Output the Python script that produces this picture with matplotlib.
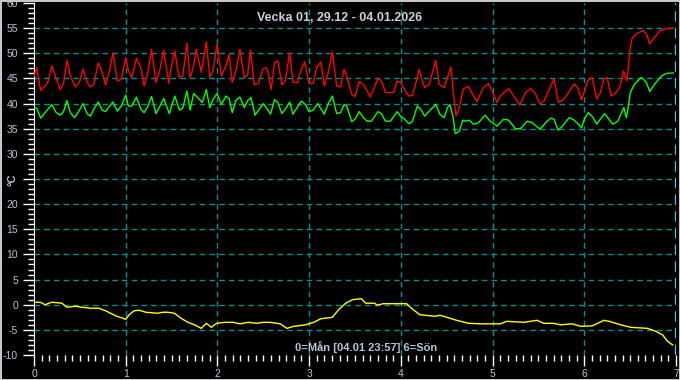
import matplotlib.pyplot as plt
import numpy as np
from matplotlib.ticker import MultipleLocator

# time in days (0=Mon), temperatures in °C
red_t = [0.0, 0.029, 0.073, 0.147, 0.194, 0.286, 0.322, 0.359, 0.396, 0.451, 0.495, 0.535, 0.579, 0.615,
         0.652, 0.700, 0.744, 0.780, 0.824, 0.861, 0.908, 0.952, 1.000, 1.029, 1.066, 1.117, 1.165, 1.201,
         1.238, 1.282, 1.330, 1.374, 1.414, 1.458, 1.469, 1.495, 1.535, 1.568, 1.586, 1.623, 1.667, 1.703,
         1.740, 1.769, 1.806, 1.824, 1.879, 1.916, 1.952, 1.996, 2.044, 2.092, 2.128, 2.161, 2.201, 2.245,
         2.293, 2.330, 2.359, 2.403, 2.447, 2.495, 2.531, 2.549, 2.586, 2.623, 2.659, 2.703, 2.740, 2.788,
         2.824, 2.872, 2.908, 2.952, 3.000, 3.044, 3.081, 3.128, 3.165, 3.209, 3.253, 3.300, 3.344, 3.381,
         3.410, 3.465, 3.502, 3.546, 3.593, 3.667, 3.751, 3.788, 3.832, 3.923, 3.960, 3.996, 4.040, 4.088,
         4.125, 4.161, 4.198, 4.234, 4.260, 4.308, 4.381, 4.418, 4.473, 4.509, 4.546, 4.571, 4.601, 4.637,
         4.681, 4.736, 4.828, 4.901, 4.956, 5.004, 5.048, 5.084, 5.176, 5.231, 5.297, 5.359, 5.414, 5.469,
         5.516, 5.560, 5.670, 5.718, 5.780, 5.890, 5.927, 5.971, 6.037, 6.084, 6.110, 6.136, 6.176, 6.212,
         6.249, 6.293, 6.348, 6.385, 6.429, 6.447, 6.465, 6.476, 6.502, 6.520, 6.568, 6.641, 6.678, 6.714,
         6.769, 6.824, 6.897, 6.971]
red_v = [45.5, 47.1, 42.6, 44.0, 47.5, 42.8, 44.0, 48.6, 45.5, 43.3, 44.2, 46.9, 44.2, 43.3,
         43.8, 48.1, 46.2, 43.7, 46.5, 50.1, 44.5, 44.8, 49.1, 46.6, 45.2, 49.0, 47.1, 43.5,
         45.8, 50.8, 44.2, 46.8, 50.6, 45.2, 44.0, 47.1, 50.5, 46.5, 45.2, 45.5, 52.0, 45.0,
         47.5, 50.8, 47.8, 46.2, 52.3, 45.2, 46.5, 51.8, 45.5, 47.5, 49.8, 44.2, 46.5, 50.8,
         45.1, 45.8, 50.6, 43.7, 44.0, 46.9, 47.1, 46.5, 42.8, 48.1, 48.5, 43.7, 44.6, 50.1,
         44.2, 44.2, 46.5, 48.3, 44.0, 44.0, 47.1, 48.3, 43.5, 46.2, 50.3, 43.5, 43.3, 46.8,
         45.5, 41.8, 41.4, 44.4, 43.8, 41.3, 45.0, 44.5, 42.2, 42.2, 44.5, 44.2, 42.8, 41.5,
         41.6, 43.8, 46.8, 44.5, 43.2, 43.8, 48.6, 43.8, 43.2, 45.2, 47.3, 42.5, 37.5, 39.2,
         42.9, 43.4, 40.4, 43.2, 44.0, 42.2, 40.2, 41.5, 43.0, 41.5, 39.7, 42.2, 43.0, 41.9,
         39.9, 40.5, 44.9, 40.2, 40.9, 43.9, 43.2, 40.7, 44.5, 45.2, 43.2, 40.9, 42.2, 44.9,
         45.2, 41.5, 42.2, 43.2, 46.5, 45.2, 44.5, 46.5, 51.2, 52.9, 53.9, 54.5, 53.9, 51.9,
         53.2, 54.5, 54.9, 55.0]

green_t = [0.0, 0.029, 0.073, 0.121, 0.194, 0.242, 0.286, 0.322, 0.359, 0.396, 0.443, 0.487, 0.535, 0.579,
           0.615, 0.652, 0.700, 0.744, 0.780, 0.824, 0.861, 0.908, 0.952, 1.000, 1.029, 1.066, 1.117, 1.165,
           1.201, 1.238, 1.282, 1.330, 1.374, 1.414, 1.458, 1.476, 1.495, 1.535, 1.586, 1.623, 1.667, 1.703,
           1.740, 1.769, 1.806, 1.835, 1.879, 1.916, 1.952, 1.996, 2.044, 2.092, 2.128, 2.161, 2.201, 2.245,
           2.293, 2.330, 2.366, 2.410, 2.458, 2.502, 2.579, 2.623, 2.659, 2.703, 2.751, 2.788, 2.824, 2.879,
           2.916, 2.960, 3.000, 3.044, 3.092, 3.165, 3.209, 3.253, 3.300, 3.344, 3.381, 3.410, 3.465, 3.502,
           3.546, 3.593, 3.630, 3.678, 3.751, 3.788, 3.832, 3.886, 3.960, 3.996, 4.040, 4.088, 4.125, 4.179,
           4.216, 4.260, 4.308, 4.381, 4.425, 4.473, 4.509, 4.535, 4.571, 4.593, 4.637, 4.674, 4.700, 4.747,
           4.791, 4.846, 4.919, 4.974, 5.048, 5.121, 5.176, 5.249, 5.304, 5.377, 5.432, 5.516, 5.579, 5.634,
           5.670, 5.714, 5.762, 5.835, 5.890, 5.971, 6.000, 6.044, 6.092, 6.136, 6.176, 6.220, 6.256, 6.311,
           6.366, 6.432, 6.458, 6.476, 6.502, 6.549, 6.623, 6.678, 6.714, 6.769, 6.842, 6.897, 6.971]
green_v = [39.1, 39.1, 37.1, 38.2, 39.8, 38.2, 37.7, 38.4, 40.6, 38.2, 37.2, 38.4, 40.0, 38.0,
           37.5, 38.9, 40.3, 38.7, 38.4, 39.5, 40.3, 38.5, 39.5, 41.7, 39.5, 39.5, 41.3, 38.9,
           38.2, 39.3, 41.4, 38.0, 39.5, 41.0, 38.9, 38.0, 39.2, 41.5, 38.7, 39.1, 42.5, 38.7,
           42.0, 41.5, 40.8, 40.2, 42.8, 39.2, 40.8, 42.0, 39.8, 41.5, 41.0, 38.2, 40.6, 41.3,
           39.2, 40.6, 41.2, 37.7, 38.9, 40.0, 37.9, 40.8, 40.2, 38.0, 39.2, 40.3, 37.9, 39.5,
           40.5, 39.8, 38.4, 38.7, 40.0, 37.9, 40.0, 41.5, 38.0, 38.2, 39.8, 39.5, 36.4, 36.9,
           38.4, 37.2, 36.5, 36.5, 38.4, 38.0, 36.5, 36.5, 38.4, 37.5, 36.9, 36.0, 36.4, 39.5,
           38.9, 37.5, 38.5, 39.8, 37.9, 37.2, 39.2, 39.8, 37.2, 34.0, 34.5, 36.7, 36.5, 36.7,
           35.9, 36.2, 37.7, 36.5, 35.5, 36.9, 36.7, 35.0, 35.0, 36.5, 36.2, 34.9, 36.2, 37.1,
           36.9, 34.7, 35.5, 37.2, 36.7, 35.2, 36.9, 38.2, 37.3, 35.9, 36.9, 38.0, 37.2, 35.9,
           36.5, 39.2, 37.2, 38.9, 42.2, 43.9, 45.2, 44.2, 42.4, 43.9, 45.5, 46.0, 46.1]

yellow_t = [0.0, 0.066, 0.121, 0.194, 0.304, 0.359, 0.451, 0.524, 0.615, 0.707, 0.780, 0.890, 1.000, 1.037,
            1.092, 1.147, 1.220, 1.348, 1.403, 1.458, 1.531, 1.604, 1.678, 1.751, 1.824, 1.879, 1.934, 1.989,
            2.081, 2.172, 2.245, 2.337, 2.429, 2.502, 2.575, 2.685, 2.758, 2.832, 2.960, 3.051, 3.125, 3.253,
            3.326, 3.399, 3.473, 3.569, 3.617, 3.715, 3.741, 3.807, 3.953, 4.062, 4.135, 4.208, 4.372, 4.427,
            4.500, 4.609, 4.737, 4.865, 5.084, 5.157, 5.339, 5.485, 5.558, 5.668, 5.741, 5.869, 5.960, 6.088,
            6.215, 6.270, 6.398, 6.507, 6.690, 6.781, 6.854, 6.909, 6.964]
yellow_v = [0.5, 0.5, 0.0, 0.5, 0.3, -0.5, -0.3, -0.5, -0.7, -0.7, -1.2, -2.2, -2.9, -2.0,
            -1.2, -1.1, -1.5, -1.7, -1.5, -1.5, -1.7, -2.7, -3.5, -4.0, -4.7, -3.7, -4.5, -3.7,
            -3.5, -3.5, -3.8, -3.5, -3.7, -3.5, -3.5, -3.8, -4.7, -4.3, -4.0, -3.5, -2.8, -2.5,
            -0.9, 0.3, 1.0, 1.2, 0.3, 0.3, -0.1, 0.2, 0.2, 0.2, -1.0, -2.0, -2.3, -2.1,
            -2.5, -3.1, -3.7, -3.8, -3.8, -3.3, -3.5, -3.1, -3.7, -3.7, -4.0, -3.8, -4.3, -4.2,
            -3.1, -3.3, -4.0, -4.5, -4.7, -5.3, -6.0, -7.3, -8.0]

y_ticks = [-10, -5, 0, 5, 10, 15, 20, 25, 30, 35, 40, 45, 50, 55, 60]
y_labels = ['-10', '-5', '0', '5', '10', '15', '20', '', '30', '35', '40', '45', '50', '55', '60']
title = "Vecka 01, 29.12 - 04.01.2026"
footer = "0=Mån [04.01 23:57] 6=Sön"

txt = '#b4c6dc'
grid_c = '#0b8c8c'

plt.rcParams['font.family'] = ['Liberation Sans', 'DejaVu Sans']

fig = plt.figure(figsize=(6.8, 3.8), dpi=100, facecolor='black')
fig.patch.set_edgecolor('#c8c8c8')
fig.patch.set_linewidth(2)
ax = fig.add_axes([34 / 680, 25 / 380, 642 / 680, 352 / 380])
ax.set_facecolor('black')

ax.set_xlim(0, 7)
ax.set_ylim(-10, 60)
ax.xaxis.set_major_locator(MultipleLocator(1))
ax.xaxis.set_minor_locator(MultipleLocator(1 / 12))
ax.set_yticks(y_ticks, y_labels)
ax.yaxis.set_minor_locator(MultipleLocator(1))

for s in ['top', 'right', 'bottom']:
    ax.spines[s].set_visible(False)
ax.spines['left'].set_color('white')

ax.tick_params(which='major', colors='white', labelcolor=txt, labelsize=7.5, length=8, width=1)
ax.tick_params(which='minor', colors='white', length=4, width=1)
ax.tick_params(axis='x', which='major', pad=2)

for x in range(1, 7):
    ax.axvline(x, color=grid_c, lw=1, ls=(0, (4, 3)), zorder=1)
ax.axvline(7, color='#20e0f0', lw=1.5, ls=(0, (5, 3)), zorder=1)
for y in range(-5, 60, 5):
    ax.axhline(y, color=grid_c, lw=1, ls=(0, (4, 3)), zorder=1)

ax.plot(red_t, red_v, color='#ff0000', lw=1, zorder=3)
ax.plot(green_t, green_v, color='#00ff00', lw=1, zorder=3)
ax.plot(yellow_t, yellow_v, color='#ffff00', lw=1, zorder=3)

fig.text(12 / 680, 1 - 180 / 380, '°C', color=txt, fontsize=8, fontweight='bold',
         rotation=90, ha='center', va='center')
fig.text(0.5, 1 - 18 / 380, title, color='#c8d0dc', fontsize=9, fontweight='bold',
         ha='center', va='center')
ax.text(0.517, 0.022, footer, transform=ax.transAxes, color=txt, fontsize=8,
        fontweight='bold', ha='center', va='center')

fig.savefig('out.png', dpi=100, facecolor='black', edgecolor='#c8c8c8')
